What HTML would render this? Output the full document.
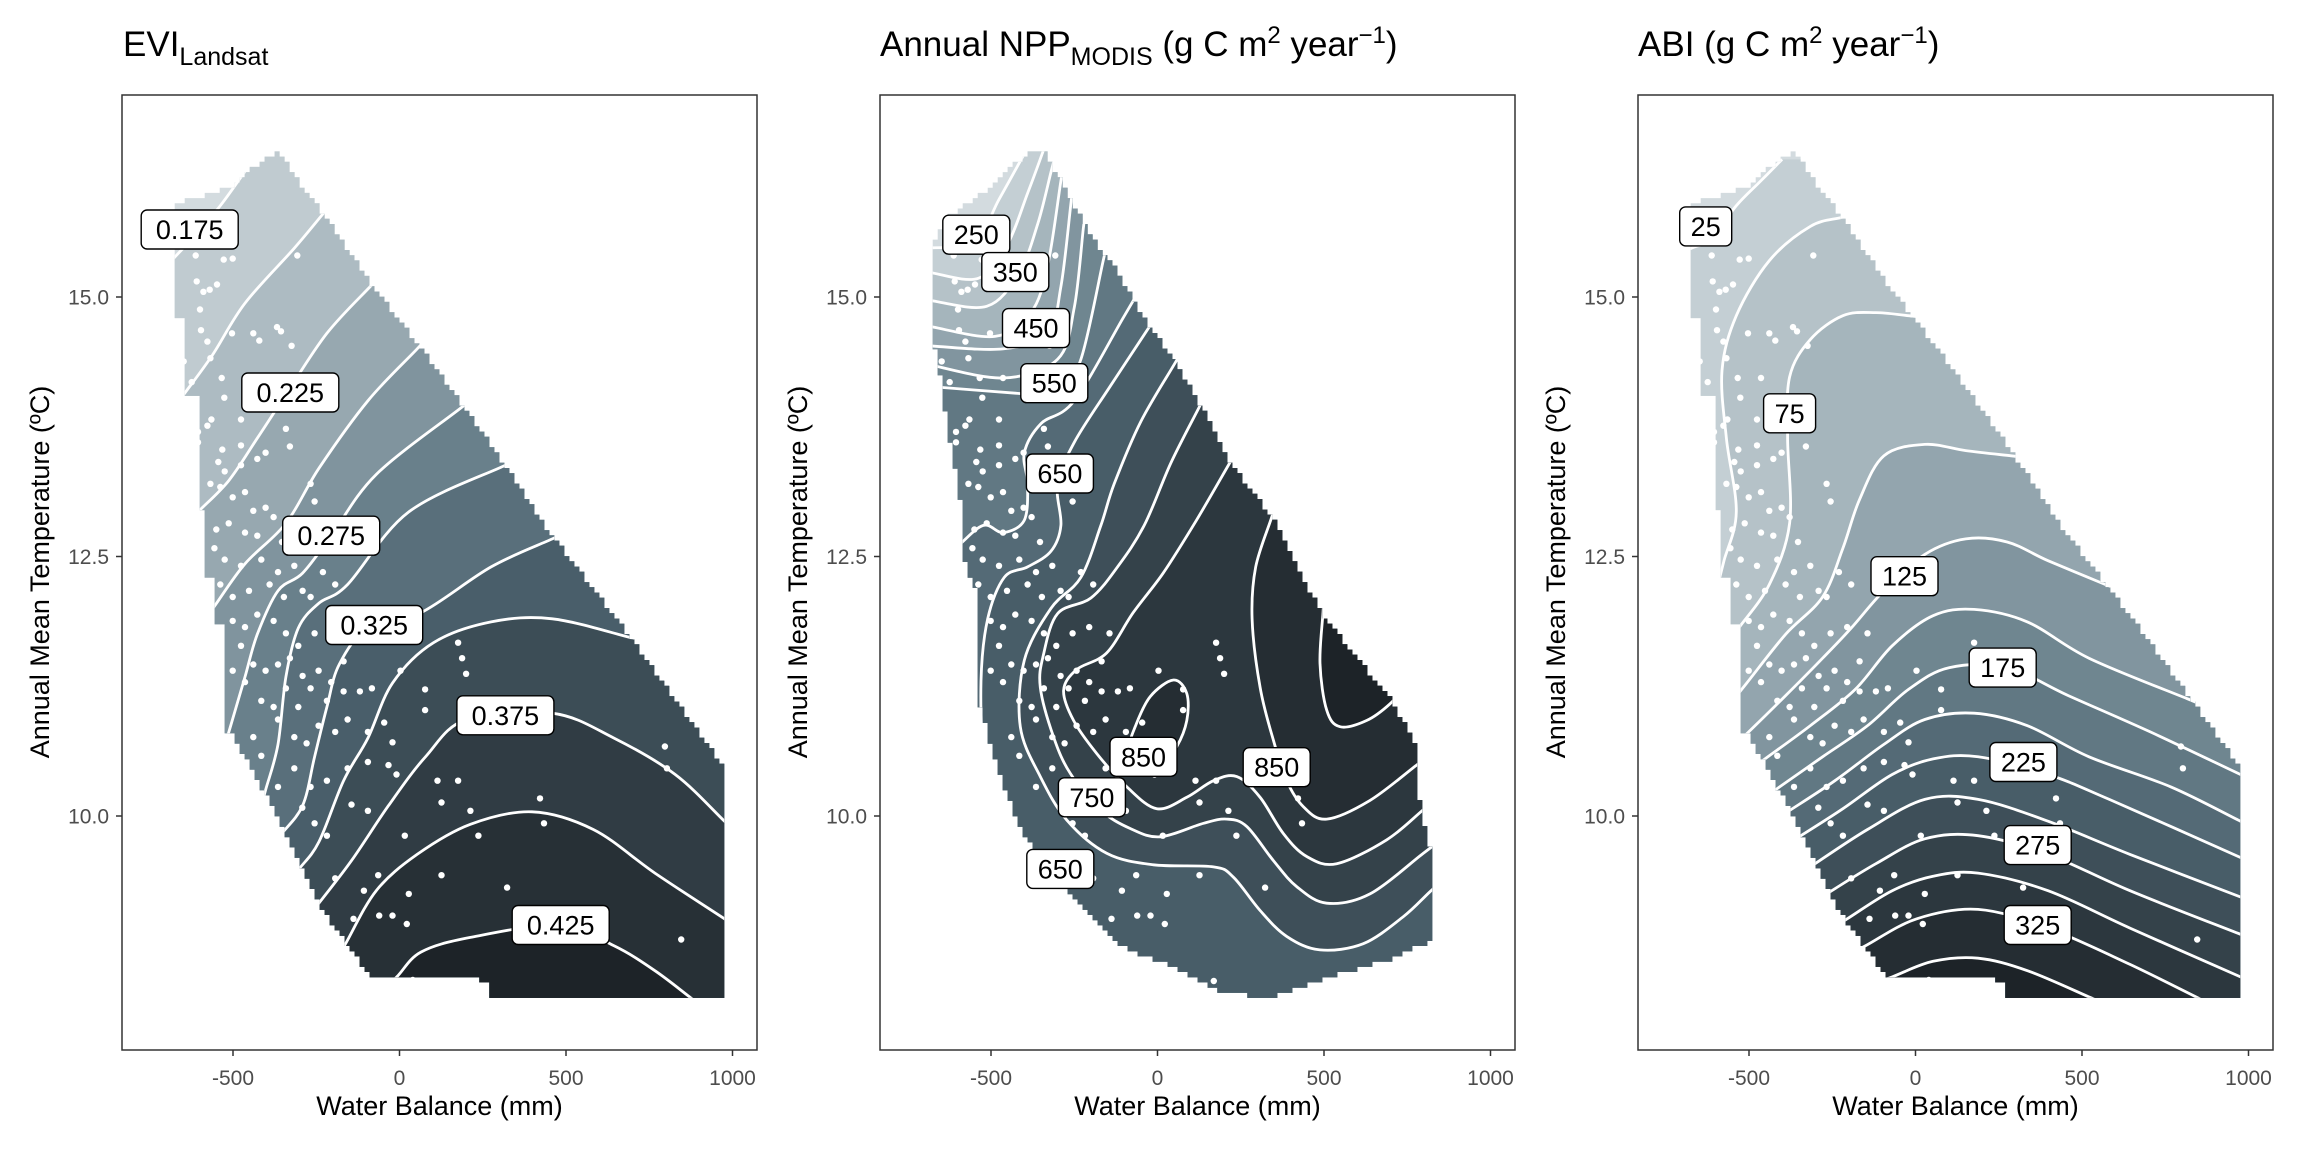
<!DOCTYPE html>
<html><head><meta charset="utf-8"><style>
html,body{margin:0;padding:0;background:#fff;width:2304px;height:1152px;overflow:hidden;}
svg{display:block;font-family:"Liberation Sans",Arial,sans-serif;}
</style></head><body>
<svg id="chart" width="2304" height="1152" viewBox="0 0 2304 1152" xmlns="http://www.w3.org/2000/svg">
<rect x="0" y="0" width="2304" height="1152" fill="#fff"/>
<g id="titles">
<text x="123" y="56" font-size="35" fill="#000">EVI<tspan font-size="25" dy="9">Landsat</tspan></text>
<text x="880" y="56" font-size="35" fill="#000">Annual NPP<tspan font-size="25" dy="9">MODIS</tspan><tspan dy="-9"> (g C m</tspan><tspan font-size="24" dy="-13">2</tspan><tspan dy="13"> year</tspan><tspan font-size="24" dy="-13">−1</tspan><tspan dy="13">)</tspan></text>
<text x="1638" y="56" font-size="35" fill="#000">ABI (g C m<tspan font-size="24" dy="-13">2</tspan><tspan dy="13"> year</tspan><tspan font-size="24" dy="-13">−1</tspan><tspan dy="13">)</tspan></text>
</g>
</svg>
<script>
// ---------- shared site data ----------
const siteWB = [-612,-528,-501,-307,-609,-548,-570,-589,-599,-596,-577,-503,-439,-368,-356,-421,-324,-648,-568,-534,-624,-526,-464,-476,-565,-605,-577,-341,-532,-476,-329,-605,-544,-402,-427,-568,-525,-476,-267,-255,-538,-501,-464,-439,-402,-550,-513,-464,-427,-378,-353,-556,-525,-476,-415,-365,-316,-538,-501,-452,-390,-347,-291,-230,-193,-267,-501,-464,-427,-378,-341,-304,-255,-205,-144,-168,-476,-439,-402,-365,-329,-291,-243,-205,-501,-464,-415,-378,-341,-304,-267,-218,-168,-119,-83,3,77,77,176,188,200,-439,-415,-365,-316,-279,-243,-193,-156,-95,-46,-21,-365,-316,-267,-218,-156,-95,-33,-9,-292,-255,-218,-144,-95,16,114,176,126,213,237,422,434,797,803,-193,-107,-64,28,126,-21,-61,22,-138,323,846,169,40];
const siteTemp = [15.40,15.36,15.37,15.40,15.15,15.12,15.07,15.05,14.88,14.68,14.57,14.65,14.65,14.71,14.67,14.58,14.53,14.38,14.41,14.22,14.18,14.03,14.22,13.82,13.82,13.70,13.76,13.73,13.53,13.57,13.56,13.60,13.41,13.50,13.44,13.20,13.32,13.38,13.20,13.03,13.17,13.07,13.12,12.94,12.97,12.76,12.82,12.73,12.70,12.88,12.64,12.58,12.47,12.41,12.47,12.35,12.41,12.23,12.11,12.17,12.23,12.11,12.17,12.35,12.23,12.11,11.88,11.82,11.94,11.88,11.76,11.64,11.76,11.82,11.76,11.49,11.64,11.46,11.40,11.46,11.52,11.35,11.40,11.29,11.40,11.29,11.11,11.05,11.23,11.05,11.23,11.11,11.20,11.20,11.23,11.40,11.22,11.02,11.67,11.52,11.37,10.76,10.58,10.93,10.76,10.70,10.87,10.81,10.93,10.81,10.90,10.71,10.28,10.46,10.28,10.34,10.46,10.52,10.49,10.40,10.08,9.93,9.81,10.11,10.05,9.81,10.34,10.34,10.13,10.05,9.81,10.17,9.93,10.67,10.46,9.40,9.28,9.43,9.25,9.43,9.04,9.04,8.96,9.01,9.31,8.81,8.41,8.42];

// ---------- axis ticks ----------
const xTicks = [-500,0,500,1000];
const xTickText = ["-500","0","500","1000"];
const yTicks = [10,12.5,15];
const yTickText = ["10.0","12.5","15.0"];

// ---------- data hulls (water balance mm, temperature °C) ----------
const hullLandsat = [[-362,16.4],[-317,16.18],[-229,15.8],[-83,15.12],[52,14.56],[188,13.97],[317,13.38],[458,12.7],[692,11.73],[976,10.46],[976,8.25],[275,8.25],[275,8.42],[40,8.45],[-83,8.45],[-162,8.78],[-243,9.16],[-403,10.22],[-507,10.81],[-532,10.81],[-532,11.87],[-556,11.87],[-556,12.3],[-581,12.3],[-581,12.94],[-606,12.94],[-606,14.03],[-651,14.03],[-651,14.8],[-673,14.8],[-673,15.9],[-560,16.0],[-507,16.06],[-464,16.19]];
const hullModis = [[-673,15.53],[-618,15.80],[-501,16.06],[-464,16.19],[-378,16.40],[-335,16.39],[-291,16.12],[-193,15.56],[-119,15.24],[-21,14.70],[53,14.38],[139,13.91],[219,13.41],[355,12.82],[496,11.93],[705,11.11],[779,10.66],[779,10.28],[822,9.63],[822,8.80],[705,8.63],[521,8.45],[324,8.24],[176,8.33],[28,8.57],[-95,8.72],[-218,9.10],[-341,9.51],[-427,9.98],[-501,10.69],[-538,11.11],[-538,12.11],[-581,12.46],[-581,12.82],[-636,13.88],[-655,14.29],[-673,14.59]];

// ---------- panel 1: EVI Landsat ----------
const eviLevels = [0.175,0.2,0.225,0.25,0.275,0.3,0.325,0.35,0.375,0.4,0.425];
const eviLines = [
 [[-685,15.35],[-612,15.60],[-538,15.88],[-464,16.21]],
 [[-648,14.06],[-562,14.44],[-464,14.94],[-316,15.47],[-230,15.80]],
 [[-605,12.93],[-513,13.23],[-427,13.64],[-341,14.06],[-218,14.65],[-82,15.12]],
 [[-556,12.02],[-464,12.43],[-341,12.82],[-242,13.35],[-95,14.0],[53,14.50]],
 [[-507,10.87],[-464,11.34],[-427,11.75],[-365,12.17],[-291,12.34],[-205,12.70],[-70,13.29],[188,13.94]],
 [[-402,10.25],[-365,10.69],[-341,11.34],[-304,11.81],[-242,12.05],[-156,12.23],[28,12.93],[318,13.38]],
 [[-359,9.81],[-291,10.10],[-255,10.57],[-218,11.05],[-181,11.46],[-95,11.81],[65,11.96],[275,12.40],[459,12.67]],
 [[-304,9.48],[-242,9.75],[-168,10.34],[-95,10.75],[-21,11.28],[102,11.67],[275,11.87],[459,11.90],[693,11.72]],
 [[-242,9.16],[-144,9.57],[-33,10.10],[78,10.57],[201,10.93],[459,10.99],[644,10.75],[828,10.40],[976,9.95]],
 [[-162,8.77],[-70,9.28],[53,9.63],[213,9.92],[398,10.04],[582,9.87],[767,9.45],[976,9.01]],
 [[-8,8.45],[65,8.69],[213,8.83],[484,8.95],[644,8.75],[767,8.51],[878,8.24]]
];
const eviLabelText = ["0.175","0.225","0.275","0.325","0.375","0.425"];
const eviLabelW = [-630,-328,-205,-76,318,484];
const eviLabelT = [15.65,14.08,12.70,11.84,10.97,8.95];

// ---------- panel 2: NPP MODIS ----------
const nppLevels = [250,300,350,400,450,500,550,600,650,700,750,800,850,900];
const nppClose = ["down","down","down","down","down","down","down","down","up","up","up","up","up","up"];
const nppLines = [
 [[-690,15.47],[-550,15.53],[-476,15.94],[-400,16.38]],
 [[-690,15.24],[-538,15.18],[-452,15.5],[-390,16.0],[-345,16.39]],
 [[-690,14.97],[-513,14.91],[-415,15.24],[-360,15.7],[-320,16.2]],
 [[-690,14.72],[-488,14.62],[-380,14.85],[-330,15.3],[-291,16.1]],
 [[-690,14.53],[-464,14.5],[-330,14.65],[-290,15.1],[-260,15.9]],
 [[-690,14.35],[-464,14.22],[-300,14.4],[-250,14.9],[-223,15.65]],
 [[-690,14.14],[-415,14.07],[-300,14.05],[-230,14.4],[-163,15.35]],
 [[-600,12.6],[-523,12.8],[-463,12.73],[-400,12.85],[-390,13.2],[-400,13.5],[-350,13.78],[-250,14.0],[-103,14.8]],
 [[-23,14.72],[-140,14.15],[-250,13.6],[-300,13.2],[-290,12.8],[-320,12.55],[-390,12.4],[-460,12.3],[-510,11.9],[-530,11.3],[-520,10.6],[-470,10.0],[-400,9.5],[-200,8.0],[800,7.9],[1000,8.0]],
 [[52,14.36],[-50,13.8],[-130,13.2],[-170,12.8],[-230,12.3],[-320,12.0],[-400,11.5],[-412,10.86],[-352,10.38],[-272,9.96],[-152,9.64],[-12,9.53],[168,9.51],[228,9.41],[308,9.09],[388,8.84],[488,8.71],[618,8.77],[738,9.03],[818,9.27]],
 [[127,13.95],[40,13.4],[-40,12.8],[-120,12.4],[-200,12.1],[-300,11.95],[-342,11.56],[-352,11.24],[-312,10.76],[-262,10.41],[-172,10.06],[-82,9.88],[8,9.80],[138,9.93],[208,9.97],[268,9.9],[348,9.57],[418,9.32],[508,9.16],[638,9.25],[798,9.64]],
 [[222,13.43],[117,12.85],[17,12.34],[-73,11.96],[-153,11.57],[-243,11.41],[-282,11.21],[-252,10.92],[-182,10.6],[-92,10.28],[-2,10.07],[88,10.18],[168,10.34],[238,10.38],[308,10.18],[378,9.83],[448,9.61],[538,9.54],[688,9.77],[798,10.06]],
 [[342,12.87],[295,12.4],[284,11.9],[308,11.24],[348,10.73],[388,10.34],[438,10.09],[508,9.97],[638,10.15],[778,10.49]],
 [[497,11.96],[488,11.47],[508,11.02],[548,10.86],[628,10.92],[698,11.08],[760,11.3]]
];
const nppLoopLevel = 850;
const nppLoop = [[-67,10.86],[-22,11.15],[48,11.31],[88,11.18],[88,10.92],[58,10.67],[8,10.47],[-52,10.47],[-82,10.67]];
const nppLabelText = ["250","350","450","550","650","850","850","750","650"];
const nppLabelW = [-544,-427,-365,-310,-293,-42,358,-197,-292];
const nppLabelT = [15.6,15.24,14.70,14.17,13.30,10.57,10.47,10.18,9.49];

// ---------- panel 3: ABI ----------
const abiLevels = [25,50,75,100,125,150,175,200,225,250,275,300,325,350];
const abiLines = [
 [[-673,15.47],[-612,15.56],[-538,15.88],[-464,16.12]],
 [[-575,12.46],[-538,12.93],[-568,13.64],[-581,14.29],[-538,14.82],[-439,15.35],[-316,15.68],[-218,15.77]],
 [[-531,11.81],[-439,12.23],[-378,12.82],[-384,13.64],[-378,14.23],[-316,14.59],[-218,14.82],[-119,14.85],[-21,14.82]],
 [[-507,11.28],[-390,11.75],[-279,12.11],[-218,12.58],[-168,13.05],[-95,13.47],[28,13.58],[151,13.52],[287,13.47]],
 [[-501,10.81],[-390,11.16],[-279,11.52],[-193,11.81],[-95,12.17],[28,12.52],[151,12.67],[275,12.64],[398,12.46],[570,12.23]],
 [[-452,10.55],[-316,10.87],[-181,11.22],[-70,11.64],[53,11.93],[176,11.99],[336,11.87],[521,11.52],[816,11.13]],
 [[-408,10.28],[-279,10.57],[-144,10.87],[-21,11.22],[102,11.43],[275,11.43],[459,11.16],[705,10.81],[976,10.40]],
 [[-384,10.04],[-242,10.34],[-95,10.69],[28,10.93],[176,10.99],[336,10.87],[521,10.57],[767,10.28],[976,9.95]],
 [[-359,9.78],[-218,10.07],[-70,10.40],[53,10.55],[188,10.57],[398,10.40],[582,10.16],[976,9.60]],
 [[-316,9.51],[-144,9.87],[28,10.16],[188,10.16],[398,9.95],[644,9.63],[976,9.22]],
 [[-267,9.25],[-119,9.54],[28,9.78],[188,9.81],[398,9.63],[644,9.28],[976,8.86]],
 [[-205,9.01],[-70,9.28],[53,9.42],[188,9.45],[398,9.28],[644,8.92],[976,8.45]],
 [[-150,8.75],[4,9.01],[188,9.10],[398,8.92],[644,8.57],[853,8.24]],
 [[-70,8.45],[53,8.60],[188,8.63],[336,8.51],[533,8.24]]
];
const abiLabelText = ["25","75","125","175","225","275","325"];
const abiLabelW = [-630,-378,-33,262,324,367,367];
const abiLabelT = [15.68,13.88,12.31,11.43,10.52,9.72,8.95];

// ---------- scales ----------
const X0 = [399.5,1157.5,1915.5];
const XS = 0.333;
function px(p,W){return X0[p]+W*XS;}
function py(T){return 297+(15-T)*103.8;}

const NS="http://www.w3.org/2000/svg";
const svg=document.getElementById('chart');
function mk(tag,attrs,parent){const e=document.createElementNS(NS,tag);for(const k in attrs)e.setAttribute(k,attrs[k]);(parent||svg).appendChild(e);return e;}

const stops=[[0,[211,219,223]],[0.2,[169,184,191]],[0.45,[106,129,140]],[0.62,[75,97,109]],[0.8,[50,63,71]],[1,[29,35,40]]];
function col(t){for(let i=0;i<stops.length-1;i++){const a=stops[i],b=stops[i+1];if(t<=b[0]){const f=(t-a[0])/(b[0]-a[0]);const c=a[1].map((v,j)=>Math.round(v+(b[1][j]-v)*f));return `rgb(${c[0]},${c[1]},${c[2]})`;}}return 'rgb(29,35,40)';}

function hullPath(hull,p){
  let d='';const n=hull.length;
  for(let r=0;r<180;r++){
    const T=7.9+r*0.05, tc=T+0.025, xs=[];
    for(let i=0;i<n;i++){const a=hull[i],b=hull[(i+1)%n];
      if((a[1]<=tc&&b[1]>tc)||(b[1]<=tc&&a[1]>tc))xs.push(a[0]+(tc-a[1])/(b[1]-a[1])*(b[0]-a[0]));}
    xs.sort((a,b)=>a-b);
    for(let j=0;j+1<xs.length;j+=2){
      const kmin=Math.ceil((xs[j]-7.5)/15),kmax=Math.floor((xs[j+1]-7.5)/15);
      if(kmax<kmin)continue;
      const x1=px(p,kmin*15).toFixed(1),x2=px(p,kmax*15+15).toFixed(1);
      const y1=(py(T+0.05)-0.3).toFixed(1),y2=(py(T)+0.3).toFixed(1);
      d+=`M${x1},${y1}H${x2}V${y2}H${x1}Z`;
    }
  }
  return d;
}
function toPx(p,line){return line.map(q=>[px(p,q[0]),py(q[1])]);}
function extend(pts,len){
  const a=pts[0],b=pts[1],m=pts[pts.length-1],l=pts[pts.length-2];
  const d1=Math.hypot(a[0]-b[0],a[1]-b[1])||1,d2=Math.hypot(m[0]-l[0],m[1]-l[1])||1;
  return [[a[0]+(a[0]-b[0])/d1*len,a[1]+(a[1]-b[1])/d1*len],...pts,[m[0]+(m[0]-l[0])/d2*len,m[1]+(m[1]-l[1])/d2*len]];
}
function cr(pts,closed){
  const n=pts.length;let d=`M${pts[0][0].toFixed(1)},${pts[0][1].toFixed(1)}`;
  const g=i=>closed?pts[(i+n)%n]:pts[Math.max(0,Math.min(n-1,i))];
  const segs=closed?n:n-1;
  for(let i=0;i<segs;i++){
    const p0=g(i-1),p1=g(i),p2=g(i+1),p3=g(i+2);
    const c1=[p1[0]+(p2[0]-p0[0])/6,p1[1]+(p2[1]-p0[1])/6],c2=[p2[0]-(p3[0]-p1[0])/6,p2[1]-(p3[1]-p1[1])/6];
    d+=`C${c1[0].toFixed(1)},${c1[1].toFixed(1)} ${c2[0].toFixed(1)},${c2[1].toFixed(1)} ${p2[0].toFixed(1)},${p2[1].toFixed(1)}`;
  }
  return closed?d+'Z':d;
}

function drawPanel(p,name,hull,levels,lines,closes,loopLevel,loop,lt,lw,lT){
  const ox=X0[p]-277.5;
  const R=ox+635, B=1050, TOP=95;
  const g=mk('g',{});
  
  
  const hp=hullPath(hull,p);
  const defs=mk('defs',{},g);
  const cp=mk('clipPath',{id:'hull'+p},defs);
  mk('path',{d:hp},cp);
  const nb=levels.length+1;
  const base=mk('path',{d:hp,fill:col(0)},g);
  
  
  const fills=mk('g',{'clip-path':`url(#hull${p})`},g);
  const strokes=[];
  const clampX=v=>Math.max(ox,Math.min(R,v)), clampY=v=>Math.max(TOP,Math.min(B,v));
  levels.forEach((lev,k)=>{
    const pts=extend(toPx(p,lines[k]),30).map(q=>[clampX(q[0]),clampY(q[1])]);
    const s=pts[0],e=pts[pts.length-1];
    const c=closes?closes[k]:'down';
    const close=c==='down'?`L${R},${e[1].toFixed(1)}L${R},${B}L${s[0].toFixed(1)},${B}Z`:`L${R},${e[1].toFixed(1)}L${R},${TOP}L${s[0].toFixed(1)},${TOP}Z`;
    const lineD=cr(pts,false);
    const f=mk('path',{d:lineD+close,fill:col((k+1)/(nb-1))},fills);
    
    
    strokes.push([lineD,lev]);
    if(loop&&loopLevel===lev){
      const ld=cr(toPx(p,loop),true);
      const lf=mk('path',{d:ld,fill:col((k+1)/(nb-1))},fills);
      
      
      strokes.push([ld,lev]);
    }
  });
  const lg=mk('g',{'clip-path':`url(#hull${p})`,fill:'none',stroke:'#fff','stroke-width':2.8},g);
  strokes.forEach(s=>{
    const l=mk('path',{d:s[0]},lg);
    
    
  });
  const pg=mk('g',{fill:'#fff'},g);
  siteWB.forEach((w,i)=>{
    const c=mk('circle',{cx:px(p,w).toFixed(1),cy:py(siteTemp[i]).toFixed(1),r:3.2},pg);
    
    
  });
  lt.forEach((t,i)=>{
    const cx=px(p,lw[i]),cy=py(lT[i]),w=t.length*15+22,h=39;
    const lgp=mk('g',{},g);
    
    
    mk('rect',{x:(cx-w/2).toFixed(1),y:(cy-h/2).toFixed(1),width:w,height:h,rx:6,fill:'#fff',stroke:'#000','stroke-width':1.4},lgp);
    const tx=mk('text',{x:cx.toFixed(1),y:(cy+9.5).toFixed(1),'font-size':27,'text-anchor':'middle',fill:'#000'},lgp);
    tx.textContent=t;
  });
  const fr=mk('rect',{x:ox,y:95,width:635,height:955,fill:'none',stroke:'#333','stroke-width':1.5},g);
  
  
  xTicks.forEach((v,i)=>{
    const x=px(p,v);
    mk('line',{x1:x,x2:x,y1:1050,y2:1056,stroke:'#333','stroke-width':1.5},g);
    const t=mk('text',{x:x,y:1085,'font-size':21,'text-anchor':'middle',fill:'#4d4d4d'},g);
    t.textContent=xTickText[i];
    
    
  });
  yTicks.forEach((v,i)=>{
    const y=py(v);
    mk('line',{x1:ox-6,x2:ox,y1:y,y2:y,stroke:'#333','stroke-width':1.5},g);
    const t=mk('text',{x:ox-13,y:y+7.5,'font-size':21,'text-anchor':'end',fill:'#4d4d4d'},g);
    t.textContent=yTickText[i];
    
    
  });
  const xt=mk('text',{x:ox+317.5,y:1115,'font-size':27,'text-anchor':'middle',fill:'#000'},g);
  xt.textContent='Water Balance (mm)';
  
  
  const yt=mk('text',{x:0,y:0,'font-size':27,'text-anchor':'middle',fill:'#000',transform:`translate(${ox-73},572) rotate(-90)`},g);
  yt.textContent='Annual Mean Temperature (ºC)';
  
  
}

drawPanel(0,'evi',hullLandsat,eviLevels,eviLines,null,null,null,eviLabelText,eviLabelW,eviLabelT);
drawPanel(1,'npp',hullModis,nppLevels,nppLines,nppClose,nppLoopLevel,nppLoop,nppLabelText,nppLabelW,nppLabelT);
drawPanel(2,'abi',hullLandsat,abiLevels,abiLines,null,null,null,abiLabelText,abiLabelW,abiLabelT);
</script>
</body></html>
